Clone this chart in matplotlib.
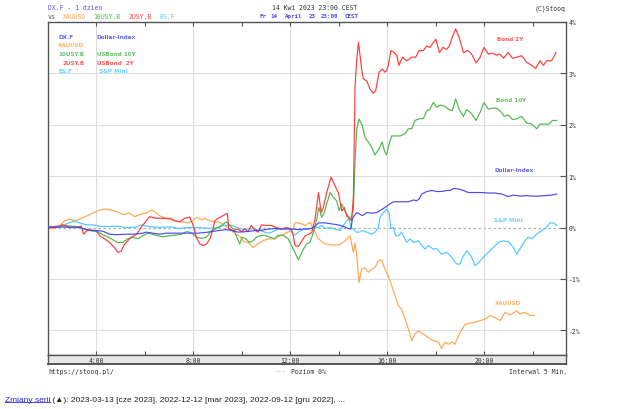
import matplotlib
matplotlib.use("Agg")
import matplotlib.pyplot as plt
from matplotlib.lines import Line2D
from matplotlib.ticker import FuncFormatter

# ---------------- data (hour of day, % change) ----------------
dx_t = [2.0, 2.61, 3.30, 3.44, 3.71, 3.99, 4.26, 4.54, 4.81, 5.23, 5.50, 5.91, 6.05, 6.33, 6.60, 6.87,
        7.37, 7.78, 8.19, 8.61, 9.02, 9.36, 9.57, 9.84, 10.19, 10.53, 10.87, 11.08, 11.36, 11.70, 12.11,
        12.33, 12.88, 13.02, 13.16, 13.43, 13.71, 13.98, 14.19, 14.39, 14.50, 14.56, 14.64, 14.74, 14.83,
        14.97, 15.15, 15.36, 15.56, 15.70, 15.84, 15.97, 16.11, 16.25, 16.59, 16.87, 17.08, 17.21, 17.31,
        17.42, 17.63, 17.83, 18.04, 18.24, 18.45, 18.59, 18.73, 18.93, 19.14, 19.34, 19.62, 19.89, 20.17,
        20.44, 20.72, 20.99, 21.20, 21.47, 21.75, 21.96, 22.23, 22.51, 22.78, 22.99]
dx_v = [0.0, 0.01, 0.0, -0.02, -0.05, -0.06, -0.07, -0.13, -0.14, -0.13, -0.13, -0.11, -0.09, -0.11, -0.13, -0.11,
        -0.11, -0.11, -0.11, -0.09, -0.06, -0.04, -0.06, -0.09, -0.08, -0.06, -0.05, -0.03, -0.02, -0.03, -0.03,
        -0.04, -0.02, 0.02, 0.09, 0.09, 0.07, 0.05, 0.02, -0.02, -0.03, 0.17, 0.23, 0.29, 0.27,
        0.23, 0.29, 0.28, 0.29, 0.33, 0.37, 0.41, 0.46, 0.50, 0.50, 0.50, 0.535, 0.52, 0.554,
        0.65, 0.70, 0.72, 0.70, 0.70, 0.72, 0.72, 0.76, 0.75, 0.72, 0.68, 0.68, 0.68, 0.67,
        0.67, 0.65, 0.60, 0.63, 0.61, 0.62, 0.61, 0.61, 0.62, 0.63, 0.65]

xau_t = [2.06, 2.20, 2.48, 2.68, 2.89, 3.16, 3.37, 3.58, 3.85, 4.13, 4.40, 4.68, 4.88, 5.09, 5.36, 5.57,
         5.84, 6.05, 6.26, 6.39, 6.60, 6.87, 7.08, 7.23, 7.51, 7.78, 7.99, 8.13, 8.33, 8.47, 8.68, 8.88,
         9.09, 9.29, 9.50, 9.71, 9.91, 10.09, 10.26, 10.46, 10.64, 10.87, 11.08, 11.36, 11.63, 11.91, 12.11,
         12.19, 12.33, 12.47, 12.61, 12.81, 13.02, 13.16, 13.43, 13.71, 13.98, 14.19, 14.32, 14.46, 14.53,
         14.60, 14.67, 14.74, 14.83, 14.94, 15.08, 15.22, 15.355, 15.49, 15.63, 15.77, 15.90, 16.04, 16.18,
         16.32, 16.46, 16.59, 16.73, 16.87, 17.01, 17.14, 17.28, 17.49, 17.69, 17.90, 18.11, 18.24, 18.38,
         18.52, 18.66, 18.79, 19.00, 19.21, 19.41, 19.62, 19.83, 20.03, 20.24, 20.44, 20.65, 20.86, 21.06,
         21.34, 21.47, 21.68, 21.89, 22.07]
xau_v = [0.0, -0.03, 0.03, 0.13, 0.16, 0.13, 0.18, 0.22, 0.28, 0.34, 0.36, 0.33, 0.30, 0.25, 0.28, 0.21,
         0.26, 0.28, 0.34, 0.31, 0.23, 0.18, 0.18, 0.13, 0.11, 0.09, 0.13, 0.20, 0.15, 0.18, 0.13, 0.11,
         0.10, 0.04, -0.03, -0.11, -0.17, -0.28, -0.29, -0.39, -0.32, -0.26, -0.22, -0.22, -0.15, -0.09, -0.02,
         0.09, 0.09, 0.07, 0.04, 0.10, -0.09, -0.22, -0.32, -0.34, -0.34, -0.29, -0.22, -0.16, -0.32,
         -0.48, -0.30, -0.55, -1.07, -0.81, -0.78, -0.87, -0.81, -0.78, -0.65, -0.63, -0.81, -0.94, -1.13,
         -1.33, -1.52, -1.59, -1.78, -1.97, -2.20, -2.07, -2.01, -2.07, -2.14, -2.20, -2.23, -2.35, -2.23,
         -2.27, -2.22, -2.27, -2.04, -1.88, -1.86, -1.84, -1.81, -1.78, -1.71, -1.75, -1.81, -1.65, -1.70,
         -1.62, -1.68, -1.65, -1.71, -1.71]

b10_t = [2.06, 2.34, 2.61, 2.89, 3.16, 3.37, 3.58, 3.85, 4.06, 4.26, 4.47, 4.68, 4.88, 5.09, 5.29, 5.50,
         5.71, 5.91, 6.12, 6.30, 6.53, 6.74, 7.01, 7.23, 7.51, 7.71, 7.85, 7.99, 8.12, 8.33, 8.54, 8.74,
         8.95, 9.16, 9.36, 9.50, 9.64, 9.77, 9.91, 10.01, 10.15, 10.32, 10.46, 10.60, 10.74, 10.94, 11.15,
         11.36, 11.49, 11.70, 11.91, 12.12, 12.33, 12.54, 12.67, 12.81, 12.95, 13.09, 13.18, 13.29, 13.40,
         13.50, 13.64, 13.77, 13.91, 14.01, 14.12, 14.23, 14.37, 14.50, 14.60, 14.67, 14.74, 14.83, 14.97,
         15.08, 15.22, 15.355, 15.49, 15.66, 15.79, 15.88, 15.97, 16.07, 16.18, 16.39, 16.53, 16.73, 16.87,
         17.01, 17.14, 17.31, 17.49, 17.63, 17.76, 17.90, 18.04, 18.18, 18.35, 18.52, 18.68, 18.82, 18.96,
         19.14, 19.28, 19.48, 19.66, 19.83, 19.99, 20.17, 20.33, 20.51, 20.69, 20.83, 20.99, 21.16, 21.34,
         21.54, 21.75, 21.96, 22.16, 22.30, 22.51, 22.67, 22.81, 22.99]
b10_v = [0.01, 0.02, 0.03, 0.03, 0.02, 0.0, -0.05, -0.07, -0.08, -0.14, -0.18, -0.24, -0.29, -0.29, -0.22, -0.19,
         -0.22, -0.16, -0.11, -0.13, -0.16, -0.18, -0.16, -0.15, -0.13, -0.08, -0.09, -0.13, -0.19, -0.21, -0.19, -0.06,
         -0.02, 0.04, 0.11, 0.04, -0.03, -0.16, -0.32, -0.19, -0.22, -0.29, -0.26, -0.19, -0.16, -0.15, -0.19,
         -0.22, -0.15, -0.15, -0.22, -0.42, -0.63, -0.42, -0.32, -0.29, -0.09, 0.17, 0.39, 0.20, 0.29,
         0.46, 0.68, 0.59, 0.52, 0.33, 0.46, 0.33, 0.23, 0.17, 0.36, 1.33, 1.91, 2.11, 1.98,
         1.75, 1.66, 1.56, 1.41, 1.53, 1.66, 1.49, 1.41, 1.62, 1.78, 1.78, 1.78, 1.82, 1.92,
         1.92, 2.08, 2.11, 2.12, 2.27, 2.30, 2.43, 2.34, 2.38, 2.36, 2.30, 2.27, 2.50, 2.30,
         2.16, 2.29, 2.21, 2.08, 2.24, 2.43, 2.30, 2.32, 2.32, 2.25, 2.16, 2.19, 2.10, 2.11,
         2.16, 2.03, 2.01, 1.92, 2.01, 2.01, 2.01, 2.08, 2.08]

b2_t = [2.06, 2.48, 2.61, 2.89, 3.16, 3.37, 3.47, 3.58, 3.71, 3.99, 4.13, 4.33, 4.54, 4.74, 4.88, 5.02,
        5.16, 5.29, 5.43, 5.64, 5.84, 6.05, 6.19, 6.46, 6.74, 7.01, 7.23, 7.44, 7.64, 7.85, 7.99, 8.12,
        8.26, 8.40, 8.54, 8.68, 8.81, 8.88, 9.02, 9.22, 9.40, 9.46, 9.64, 9.84, 9.98, 10.12, 10.26, 10.39,
        10.56, 10.67, 10.81, 11.01, 11.22, 11.42, 11.63, 11.84, 12.04, 12.12, 12.19, 12.33, 12.47, 12.61,
        12.74, 12.88, 13.02, 13.16, 13.27, 13.36, 13.50, 13.68, 13.84, 13.98, 14.12, 14.23, 14.32, 14.43,
        14.53, 14.60, 14.67, 14.74, 14.81, 14.94, 15.01, 15.15, 15.29, 15.42, 15.52, 15.66, 15.79, 15.90,
        15.97, 16.04, 16.15, 16.29, 16.39, 16.48, 16.62, 16.80, 17.01, 17.17, 17.31, 17.49, 17.63, 17.76,
        17.86, 18.00, 18.15, 18.29, 18.45, 18.56, 18.68, 18.82, 18.96, 19.14, 19.32, 19.48, 19.66, 19.83,
        19.99, 20.17, 20.33, 20.51, 20.65, 20.79, 20.99, 21.16, 21.34, 21.54, 21.75, 21.96, 22.12, 22.30,
        22.44, 22.57, 22.78, 22.96]
b2_v = [0.01, 0.03, 0.055, 0.0, 0.0, 0.03, -0.13, -0.07, -0.05, -0.06, -0.16, -0.22, -0.29, -0.39, -0.48, -0.46,
        -0.32, -0.26, -0.19, -0.14, 0.0, 0.13, 0.21, 0.18, 0.18, 0.17, 0.13, 0.11, 0.18, 0.20, 0.04, -0.19,
        -0.32, -0.35, -0.32, -0.22, -0.03, 0.13, 0.18, 0.23, 0.275, -0.03, -0.06, -0.03, -0.08, -0.03, -0.08, 0.04,
        -0.06, -0.09, 0.05, 0.04, 0.04, 0.0, -0.03, 0.0, -0.03, -0.16, -0.35, -0.37, -0.26, -0.16,
        -0.13, -0.10, 0.17, 0.68, 0.29, 0.39, 0.68, 0.98, 0.81, 0.68, 0.32, 0.39, 0.23, 0.17,
        0.13, 0.60, 2.76, 3.27, 3.60, 3.08, 2.89, 2.85, 2.69, 2.61, 2.66, 3.02, 3.08, 3.02,
        3.05, 3.15, 3.44, 3.40, 3.34, 3.15, 3.31, 3.24, 3.31, 3.31, 3.44, 3.44, 3.53, 3.50,
        3.57, 3.66, 3.40, 3.50, 3.46, 3.53, 3.70, 3.86, 3.70, 3.40, 3.44, 3.37, 3.20, 3.31,
        3.50, 3.37, 3.39, 3.35, 3.37, 3.29, 3.40, 3.29, 3.31, 3.34, 3.21, 3.15, 3.09, 3.24,
        3.15, 3.24, 3.24, 3.40]

es_t = [2.06, 2.34, 2.61, 2.82, 3.03, 3.23, 3.44, 3.64, 3.85, 4.06, 4.26, 4.54, 4.81, 5.09, 5.36, 5.64,
        5.84, 6.05, 6.33, 6.60, 6.87, 7.08, 7.37, 7.78, 8.19, 8.61, 9.02, 9.29, 9.50, 9.71, 9.91, 10.12,
        10.32, 10.53, 10.74, 10.94, 11.08, 11.29, 11.49, 11.70, 11.91, 12.06, 12.19, 12.33, 12.54, 12.74,
        12.95, 13.16, 13.29, 13.43, 13.64, 13.84, 14.05, 14.19, 14.32, 14.42, 14.50, 14.60, 14.70, 14.83,
        14.97, 15.15, 15.355, 15.49, 15.63, 15.70, 15.84, 15.97, 16.07, 16.15, 16.25, 16.34, 16.46, 16.59,
        16.80, 16.94, 17.08, 17.28, 17.42, 17.56, 17.69, 17.90, 18.04, 18.24, 18.45, 18.66, 18.86, 19.00,
        19.14, 19.28, 19.45, 19.62, 19.78, 19.96, 20.17, 20.37, 20.58, 20.79, 20.99, 21.20, 21.34, 21.47,
        21.68, 21.82, 21.96, 22.16, 22.37, 22.57, 22.71, 22.85, 22.99]
es_v = [0.01, 0.0, 0.03, 0.08, 0.12, 0.10, 0.07, 0.05, 0.05, 0.03, 0.02, 0.02, 0.03, 0.01, 0.0, 0.01,
        0.05, 0.03, 0.01, 0.0, 0.01, 0.01, -0.02, 0.0, 0.0, -0.02, 0.0, 0.04, 0.05, 0.02, -0.02, -0.04,
        -0.02, -0.03, -0.06, -0.09, -0.11, -0.08, -0.03, -0.02, -0.02, -0.09, -0.15, -0.09, -0.03, -0.03,
        0.0, 0.0, 0.04, -0.02, 0.0, -0.03, -0.06, 0.04, 0.13, 0.17, 0.0, -0.03, -0.09, -0.09,
        -0.06, -0.09, -0.13, -0.09, 0.0, 0.20, 0.29, 0.36, 0.29, -0.02, 0.0, -0.16, -0.16, -0.09,
        -0.29, -0.22, -0.29, -0.26, -0.35, -0.42, -0.35, -0.42, -0.41, -0.52, -0.48, -0.58, -0.71, -0.71,
        -0.55, -0.45, -0.55, -0.74, -0.68, -0.58, -0.48, -0.39, -0.29, -0.26, -0.27, -0.39, -0.52, -0.42,
        -0.26, -0.19, -0.22, -0.13, -0.06, 0.0, 0.09, 0.09, 0.04]

y_ticks = [-2, -1, 0, 1, 2, 3, 4]
x_labels = ["4:00", "8:00", "12:00", "16:00", "20:00"]
x_label_hours = [4, 8, 12, 16, 20]

C_DX = "#4a4af0"
C_XAU = "#ffa64d"
C_10 = "#4cb84c"
C_2 = "#ff3b3b"
C_ES = "#4cc9ff"
MONO = "DejaVu Sans Mono"
DARK = "#333333"

# ---------------- layout ----------------
W, H = 625, 410
fig = plt.figure(figsize=(6.25, 4.1), dpi=100)
fig.patch.set_facecolor("white")


def fx(x):
    return x / W


def fy(y):
    return 1 - y / H


X0, X1 = 48, 565.7
YT, YB, YBAND = 22.7, 356, 364.5

ax = fig.add_axes([fx(X0), fy(YB), fx(X1) - fx(X0), fy(YT) - fy(YB)])
ax.set_xlim(2.0, 23.36)
ax.set_ylim(-2.478, 4.0)

for v in y_ticks:
    if v == 0:
        ax.axhline(v, color="#b0b0b0", lw=0.9, ls=(0, (2, 2)), zorder=1)
    else:
        ax.axhline(v, color="#dedede", lw=0.8, zorder=1)
for h in x_label_hours:
    ax.axvline(h, color="#dedede", lw=0.8, zorder=1)

lw = 0.85
ax.plot(xau_t, xau_v, color=C_XAU, lw=lw, zorder=3)
ax.plot(es_t, es_v, color=C_ES, lw=lw, zorder=3)
ax.plot(b10_t, b10_v, color=C_10, lw=lw, zorder=3)
ax.plot(b2_t, b2_v, color=C_2, lw=lw, zorder=3)
ax.plot(dx_t, dx_v, color=C_DX, lw=lw, zorder=4)

for s in ax.spines.values():
    s.set_color("#555555")
    s.set_linewidth(1.0)

ax.set_xticks(list(range(4, 23, 2)))
ax.tick_params(axis="x", which="both", direction="in", length=3, top=True, bottom=True,
               labelbottom=False, color="#555555", width=0.8)
ax.yaxis.tick_right()
ax.set_yticks(y_ticks)
ax.yaxis.set_major_formatter(FuncFormatter(lambda v, p: f"{int(v)}%".replace("\u2212", "-")))
ax.tick_params(axis="y", direction="in", length=4, right=True, left=False, labelright=True,
               labelsize=4.7, pad=2, color="#555555", width=0.8, labelcolor=DARK)
for lab in ax.get_yticklabels():
    lab.set_family(MONO)

# band with hour labels
bax = fig.add_axes([fx(X0), fy(YBAND), fx(X1) - fx(X0), fy(YB) - fy(YBAND)])
bax.set_facecolor("#e8e8e8")
bax.set_xlim(2.0, 23.36)
bax.set_ylim(0, 1)
bax.set_xticks([])
bax.set_yticks([])
for s in bax.spines.values():
    s.set_color("#555555")
    s.set_linewidth(1.0)
bax.spines["bottom"].set_linewidth(1.4)
for h, lab in zip(x_label_hours, x_labels):
    bax.text(h, 0.45, lab, ha="center", va="center", family=MONO, size=4.7, color=DARK)

# ---------------- header ----------------
fig.text(fx(48), fy(8.3), "DX.F - 1 dzien", family=MONO, size=4.7, color="#5a5ae0", va="center")
fig.text(fx(47.7), fy(17.3), "vs", family=MONO, size=4.7, color="#555555", va="center")
for xx, t, c in [(62.7, "XAUUSD", C_XAU), (93.3, "10USY.B", C_10), (128.3, "2USY.B", C_2), (159.3, "ES.F", C_ES)]:
    fig.text(fx(xx), fy(17.3), t, family=MONO, size=4.7, color=c, va="center")
fig.text(fx(271.7), fy(8.3), "14 Kwi 2023 23:00 CEST", family=MONO, size=4.7, color=DARK, va="center")
for xx, t in [(260, "Fr"), (270.7, "14"), (285, "April"), (308.3, "23"), (320.7, "23:00"), (345, "CEST")]:
    fig.text(fx(xx), fy(16.5), t, family=MONO, size=4.2, color="#4a4ae0", va="center", weight="bold")
fig.text(fx(565.7), fy(8.3), "(C)Stooq", family=MONO, size=4.7, color=DARK, va="center", ha="right")

# ---------------- inner legend ----------------
LEG = dict(family="DejaVu Sans", size=4.1, weight="bold", va="center", ha="left")
for xx, yy, t, c in [(58.3, 37.3, "DX.F", C_DX), (96.7, 37.3, "Dollar-Index", C_DX),
                     (58.3, 45.7, "XAUUSD", C_XAU),
                     (58.3, 54.3, "10USY.B", C_10), (97.3, 54.3, "USBond 10Y", C_10),
                     (62.7, 63.3, "2USY.B", C_2), (97.3, 63.3, "USBond  2Y", C_2),
                     (58.3, 71.7, "ES.F", C_ES), (99.0, 71.7, "S&P Mini", C_ES)]:
    fig.text(fx(xx), fy(yy), t, color=c, alpha=0.85, **LEG)

# right-side series labels
for xx, yy, t, c in [(496.7, 39.3, "Bond 2Y", C_2), (495.7, 101, "Bond 10Y", C_10),
                     (494.3, 171, "Dollar-Index", C_DX), (494.3, 221, "S&P Mini", C_ES),
                     (495.0, 303.3, "XAUUSD", C_XAU)]:
    fig.text(fx(xx), fy(yy), t, color=c, alpha=0.85, **LEG)

# ---------------- footer ----------------
fig.text(fx(48), fy(371.7), "https://stooq.pl/", family=MONO, size=4.7, color=DARK, va="center")
fig.text(fx(275), fy(371.7), "---", family=MONO, size=4.7, color="#aaaaaa", va="center")
fig.text(fx(291), fy(371.7), "Poziom 0%", family=MONO, size=4.7, color=DARK, va="center")
fig.text(fx(567), fy(371.7), "Interwal 5 Min.", family=MONO, size=4.7, color=DARK, va="center", ha="right")

fam = ["Liberation Sans", "DejaVu Sans"]
t1 = fig.text(fx(5), fy(402), "Zmiany serii", family=fam, size=6, color="#2a2ad8", va="baseline")
fig.canvas.draw()
r = fig.canvas.get_renderer()
bb = t1.get_window_extent(renderer=r)
x_end = bb.x1 / fig.bbox.width
fig.add_artist(Line2D([bb.x0 / fig.bbox.width, x_end], [fy(403.2), fy(403.2)],
                      color="#2a2ad8", lw=0.6, transform=fig.transFigure))
fig.text(x_end, fy(402), " (\u25b2): 2023-03-13 [cze 2023], 2022-12-12 [mar 2023], 2022-09-12 [gru 2022], ...",
         family=fam, size=6, color="#222222", va="baseline")

fig.savefig("out.png", dpi=100, facecolor="white")
